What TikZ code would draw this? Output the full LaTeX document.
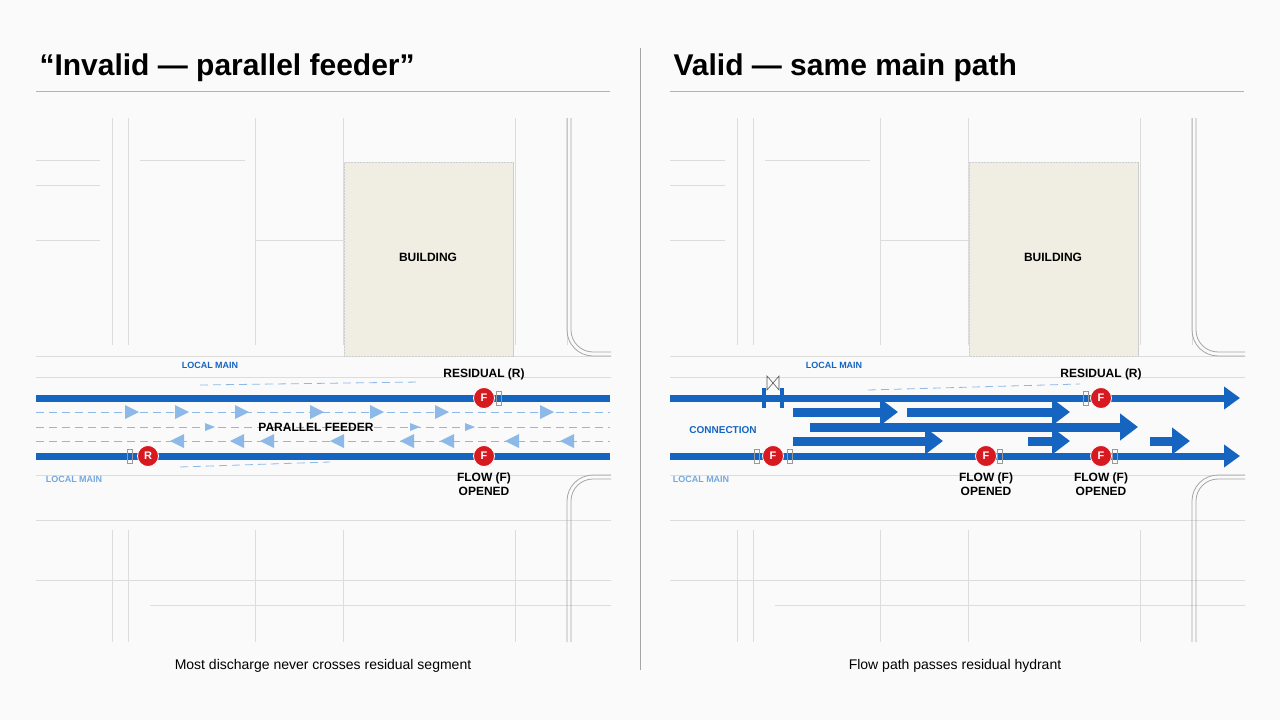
\documentclass[tikz,border=0pt]{standalone}
\usepackage{fontspec}
\setmainfont{Liberation Sans}
\usetikzlibrary{arrows.meta,positioning,patterns}
\definecolor{mainblue}{HTML}{1565C0}
\definecolor{paleblue}{HTML}{8DB9E8}
\definecolor{street}{HTML}{DCDCDC}
\definecolor{bldg}{HTML}{F3EFDF}
\definecolor{hyd}{HTML}{D71920}
\tikzset{
  main/.style={line width=7pt, mainblue},
  mainarrow/.style={line width=7pt, mainblue, -{Triangle[length=16pt,width=22pt]}},
  feed/.style={line width=9pt, mainblue, -{Triangle[length=18pt,width=26pt]}},
  ghost/.style={paleblue, line width=0.8pt, dash pattern=on 8pt off 5pt},
  ghosttip/.style={paleblue, fill=paleblue},
  hydrant/.style={circle, fill=hyd, draw=white, line width=0.8pt, minimum size=21pt, inner sep=0pt, text=white, font=\bfseries\fontsize{11}{11}\selectfont},
  tag/.style={font=\bfseries\fontsize{12}{14}\selectfont, align=center},
  bluetag/.style={font=\bfseries\fontsize{9}{10}\selectfont, text=mainblue},
  palettag/.style={font=\bfseries\fontsize{9}{10}\selectfont, text=paleblue!80!mainblue},
  road/.style={street, line width=0.8pt},
  title/.style={font=\bfseries\fontsize{30}{32}\selectfont, anchor=base west},
  caption/.style={font=\fontsize{14}{16}\selectfont},
  gate/.style={draw=gray!80, line width=0.6pt, minimum width=5pt, minimum height=14pt, inner sep=0pt}
}
\begin{document}
\begin{tikzpicture}[x=1pt,y=-1pt]
  \useasboundingbox[fill=gray!4] (0,0) rectangle (1280,720);
  % titles and rules
  \node[title] (tl) at (36,75) {“Invalid — parallel feeder”};
  \node[title] (tr) at (670,75) {Valid — same main path};
  \draw[gray!60, line width=0.8pt] (36,91) -- (610,91);
  \draw[gray!60, line width=0.8pt] (670,91) -- (1244,91);
  \draw[gray!70, line width=1pt] (640,48) -- (640,670);
  % two street maps
  \foreach \ox/\cl/\name in {0/36/L, 625/670/R}{
    \begin{scope}
      \clip (\cl,118) rectangle (\cl+575,642);
      \begin{scope}[xshift=\ox]
      \foreach \x in {112,128,255,343,515,567}
        \draw[road] (\x,118) -- (\x,345);
      \foreach \x in {112,128,255,343,515}
        \draw[road] (\x,530) -- (\x,642);
      \foreach \y in {160,185,240}
        \draw[road] (30,\y) -- (100,\y);
      \draw[road] (140,160) -- (245,160);
      \draw[road] (255,240) -- (343,240);
      \foreach \y in {356,377,475,520,580}
        \draw[road] (30,\y) -- (630,\y);
      \draw[road] (150,605) -- (630,605);
      \draw[gray!70, line width=0.8pt] (567,118) -- (567,330) arc (180:90:26) -- (630,356);
      \draw[gray!70, line width=0.8pt] (571,118) -- (571,330) arc (180:90:22) -- (630,352);
      \draw[gray!70, line width=0.8pt] (630,475) -- (593,475) arc (270:180:26) -- (567,642);
      \draw[gray!70, line width=0.8pt] (630,479) -- (593,479) arc (270:180:22) -- (571,642);
      \draw[gray!40, fill=bldg, line width=1pt] (344,162) rectangle (513,356);
      \fill[pattern=north east lines, pattern color=gray!15] (344,162) rectangle (513,356);
      \node[font=\bfseries\fontsize{12}{14}\selectfont] (bldg\name) at (428,257) {BUILDING};
      \end{scope}
    \end{scope}
  }
  % ---------- left: parallel feeder ----------
  \coordinate (lta) at (36,398);  \coordinate (ltb) at (610,398);
  \coordinate (lba) at (36,456);  \coordinate (lbb) at (610,456);
  \foreach \y in {412,427,441}
    \draw[ghost] (36,\y) -- (610,\y);
  \draw[ghost] (200,385) -- (420,382);
  \draw[ghost] (180,467) -- (330,462);
  \foreach \x in {125,175,235,310,370,435,540}
    \fill[ghosttip] (\x,405) -- (\x+14,412) -- (\x,419) -- cycle;
  \foreach \x in {205,410,465}
    \fill[ghosttip] (\x,423) -- (\x+10,427) -- (\x,431) -- cycle;
  \foreach \x in {170,230,260,330,400,440,505,560}
    \fill[ghosttip] (\x+14,434) -- (\x,441) -- (\x+14,448) -- cycle;
  \draw[main] (lta) -- (ltb);
  \draw[main] (lba) -- (lbb);
  \node[gate] (gl1) at (130,456) {};
  \node[gate] (gl2) at (499,398) {};
  \node[hydrant] (hr) at (148,456) {R};
  \node[hydrant] (hf1) at (484,398) {F};
  \node[hydrant] (hf2) at (484,456) {F};
  \node[tag, above=4pt of hf1] (lres) {RESIDUAL (R)};
  \node[tag, below=2pt of hf2] (lflow) {FLOW (F)\\OPENED};
  \node[tag] (feeder) at (316,427) {PARALLEL FEEDER};
  \node[bluetag] (lm1) at (210,365) {LOCAL MAIN};
  \node[palettag] (lm2) at (74,479) {LOCAL MAIN};
  \node[caption] (capl) at (323,666) {Most discharge never crosses residual segment};
  % ---------- right: same main path ----------
  \coordinate (rta) at (670,398);  \coordinate (rtb) at (1240,398);
  \coordinate (rba) at (670,456);  \coordinate (rbb) at (1240,456);
  \draw[ghost] (868,390) -- (1080,384);
  \draw[mainarrow] (rta) -- (rtb);
  \draw[mainarrow] (rba) -- (rbb);
  \draw[mainblue, line width=4pt] (764,388) -- (764,408);
  \draw[mainblue, line width=4pt] (782,388) -- (782,408);
  \draw[gray!70!black, line width=0.6pt] (767,376) -- (779,390) -- (779,376) -- (767,390) -- cycle;
  \foreach \xa/\xb/\y in {793/898/412, 907/1070/412, 810/1138/427, 793/943/441, 1028/1070/441, 1150/1190/441}{
    \coordinate (fa) at (\xa,\y); \coordinate (fb) at (\xb,\y);
    \draw[feed] (fa) -- (fb);
  }
  \node[gate] (gr1) at (757,456) {};
  \node[gate] (gr2) at (790,456) {};
  \node[gate] (gr3) at (1086,398) {};
  \node[gate] (gr4) at (1000,456) {};
  \node[gate] (gr5) at (1115,456) {};
  \node[hydrant] (rf0) at (773,456) {F};
  \node[hydrant] (rf1) at (1101,398) {F};
  \node[hydrant] (rf2) at (986,456) {F};
  \node[hydrant] (rf3) at (1101,456) {F};
  \node[tag, above=4pt of rf1] (rres) {RESIDUAL (R)};
  \node[tag, below=2pt of rf2] (rflow1) {FLOW (F)\\OPENED};
  \node[tag, below=2pt of rf3] (rflow2) {FLOW (F)\\OPENED};
  \node[bluetag, font=\bfseries\fontsize{10}{11}\selectfont] (conn) at (723,430) {CONNECTION};
  \node[bluetag] (rm1) at (834,365) {LOCAL MAIN};
  \node[palettag] (rm2) at (701,479) {LOCAL MAIN};
  \node[caption] (capr) at (955,666) {Flow path passes residual hydrant};
\end{tikzpicture}
\end{document}
